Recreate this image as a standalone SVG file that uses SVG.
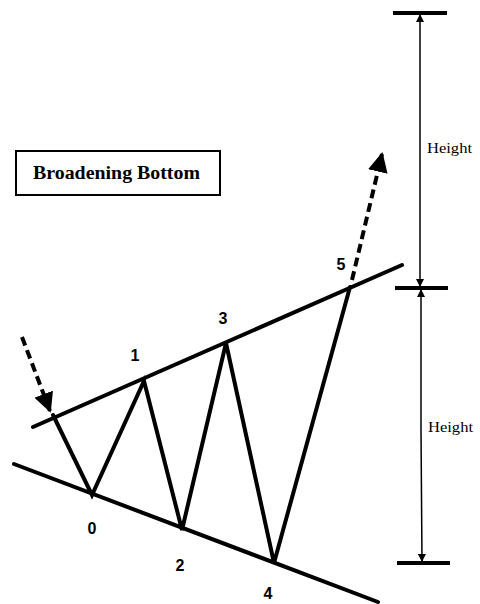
<svg xmlns="http://www.w3.org/2000/svg" width="480" height="604" viewBox="0 0 480 604">
<defs>
<marker id="dimArrow" viewBox="0 0 10 10" refX="10" refY="5" markerWidth="8" markerHeight="8" markerUnits="userSpaceOnUse" orient="auto">
<path d="M0,0 L10,5 L0,10 z" fill="#000"/>
</marker>
<marker id="bigArrow" viewBox="0 0 10 10" refX="9" refY="5" markerWidth="5" markerHeight="5" orient="auto">
<path d="M0,0 L10,5 L0,10 z" fill="#000"/>
</marker>
</defs>
<style>
.main{stroke:#000;stroke-width:4;fill:none;stroke-linejoin:miter;stroke-linecap:round}
.dash{stroke:#000;stroke-width:4;fill:none;stroke-dasharray:9,5}
.dim{stroke:#000;stroke-width:1.5;fill:none}
.bar{stroke:#000;stroke-width:4}
.num{font-family:"Liberation Sans",Arial,sans-serif;font-size:16px;font-weight:bold;text-anchor:middle;fill:#000}
.lbl{font-family:"Liberation Serif","Times New Roman",serif;font-size:14px;fill:#000}
.title{font-family:"Liberation Serif","Times New Roman",serif;font-size:18px;font-weight:bold;fill:#000}
</style>
<rect width="480" height="604" fill="#fff"/>
<g id="title-box">
<rect x="16" y="151" width="204" height="44" fill="#fff" stroke="#000" stroke-width="2"/>
<text class="title" x="33" y="179" textLength="167" lengthAdjust="spacingAndGlyphs">Broadening Bottom</text>
</g>
<g id="connectors">
<line id="upper-trend" class="main" x1="33" y1="427" x2="402" y2="265"/>
<line id="lower-trend" class="main" x1="14" y1="464" x2="378" y2="602"/>
<polyline id="zigzag" class="main" points="53,415 92,495 144,381 182,530 226,343 274,563 350,287"/>
<line class="dash" x1="22" y1="337" x2="50" y2="411" marker-end="url(#bigArrow)"/>
<line class="dash" x1="352" y1="280" x2="382" y2="154" marker-end="url(#bigArrow)"/>
<line class="dim" x1="420" y1="150" x2="420" y2="14" marker-end="url(#dimArrow)"/>
<line class="dim" x1="420" y1="150" x2="420" y2="287" marker-end="url(#dimArrow)"/>
<line class="dim" x1="421" y1="430" x2="421" y2="289" marker-end="url(#dimArrow)"/>
<line class="dim" x1="421" y1="430" x2="422" y2="562" marker-end="url(#dimArrow)"/>
<line class="bar" x1="393" y1="13" x2="447" y2="13"/>
<line class="bar" x1="395" y1="288" x2="448" y2="288"/>
<line class="bar" x1="397" y1="563" x2="450" y2="563"/>
</g>
<g id="labels">
<text class="num" x="92" y="534">0</text>
<text class="num" x="135" y="361">1</text>
<text class="num" x="180" y="571">2</text>
<text class="num" x="223" y="324">3</text>
<text class="num" x="268" y="599">4</text>
<text class="num" x="341" y="270">5</text>
<text class="lbl" x="427" y="153" textLength="45" lengthAdjust="spacingAndGlyphs">Height</text>
<text class="lbl" x="428" y="432" textLength="45" lengthAdjust="spacingAndGlyphs">Height</text>
</g>
</svg>
